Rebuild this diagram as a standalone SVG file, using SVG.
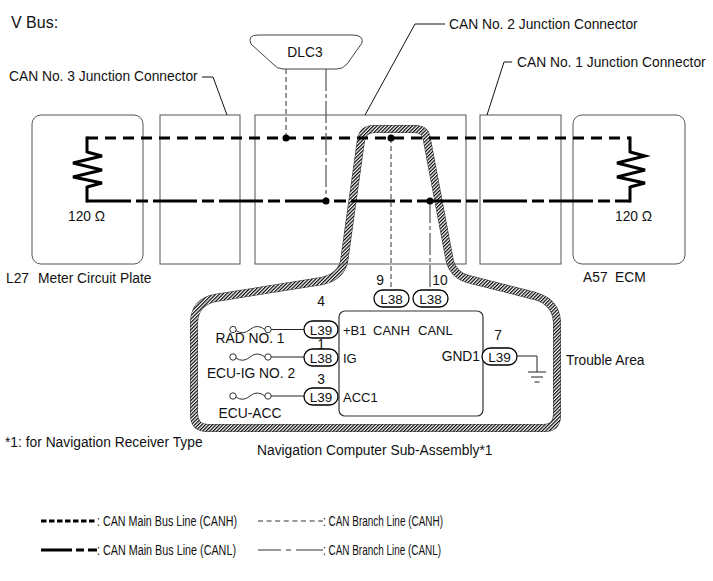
<svg xmlns="http://www.w3.org/2000/svg" width="713" height="581" viewBox="0 0 713 581">
<style>
text{font-family:"Liberation Sans",Arial,sans-serif;font-size:13.8px;fill:#111}
.box{fill:none;stroke:#555;stroke-width:1}
.lead{fill:none;stroke:#111;stroke-width:1}
.mainH{fill:none;stroke:#000;stroke-width:3;stroke-dasharray:11 7}
.mainL{fill:none;stroke:#000;stroke-width:3;stroke-dasharray:44 5 12 5}
.solid3{fill:none;stroke:#000;stroke-width:3}
.brH{fill:none;stroke:#555;stroke-width:1.2;stroke-dasharray:5 3}
.brL{fill:none;stroke:#555;stroke-width:1.2;stroke-dasharray:22 3 4 3}
.pill{fill:#fff;stroke:#000;stroke-width:1.3}
.pt{font-size:13.5px}
.nl{font-size:13px}
.wire{fill:none;stroke:#222;stroke-width:1}
.fuse{fill:none;stroke:#333;stroke-width:1}
.leg{font-size:14px}
</style>
<defs>
<pattern id="hatch" patternUnits="userSpaceOnUse" width="2.5" height="2.5" patternTransform="rotate(45)">
<rect width="2.5" height="2.5" fill="#fff"/>
<line x1="0.6" y1="0" x2="0.6" y2="2.5" stroke="#000" stroke-width="1.2"/>
</pattern>
</defs>

<text x="11" y="28" style="font-size:16px">V Bus:</text>

<g id="trouble-area">
<path d="M344,262 L361,140 Q363,129 374,129 L415,129 Q426,129 427,140 L450,262 Q455,276 468,279 L535,296 Q556,302 557,322 L557,415 Q557,428 544,428 L208,428 Q194,428 194,414 L194,322 Q195,302 215,298 L322,281 Q340,277 344,262 Z" fill="none" stroke="#333" stroke-width="8" stroke-linejoin="round"/>
<path d="M344,262 L361,140 Q363,129 374,129 L415,129 Q426,129 427,140 L450,262 Q455,276 468,279 L535,296 Q556,302 557,322 L557,415 Q557,428 544,428 L208,428 Q194,428 194,414 L194,322 Q195,302 215,298 L322,281 Q340,277 344,262 Z" fill="none" stroke="url(#hatch)" stroke-width="7" stroke-linejoin="round"/>
<text x="566" y="365">Trouble Area</text>
</g>

<g id="L27-meter">
<rect class="box" x="32" y="115" width="111" height="149" rx="9"/>
<text x="68" y="221">120 Ω</text>
<text y="283"><tspan x="6">L27</tspan><tspan x="38">Meter Circuit Plate</tspan></text>
</g>

<g id="can3-jc">
<rect class="box" x="160" y="115" width="80" height="149"/>
<text x="9" y="81">CAN No. 3 Junction Connector</text>
<path class="lead" d="M202,77 H213 L227,115"/>
</g>

<g id="can2-jc">
<rect class="box" x="255" y="115" width="211" height="149"/>
<text x="449" y="29">CAN No. 2 Junction Connector</text>
<path class="lead" d="M445,24 H415 L365,115"/>
</g>

<g id="can1-jc">
<rect class="box" x="480" y="115" width="81" height="149"/>
<text x="517" y="67">CAN No. 1 Junction Connector</text>
<path class="lead" d="M512,62 H504 L487,115"/>
</g>

<g id="A57-ecm">
<rect class="box" x="573" y="115" width="112" height="149" rx="9"/>
<text x="615" y="221">120 Ω</text>
<text y="282"><tspan x="583">A57</tspan><tspan x="615">ECM</tspan></text>
</g>

<g id="dlc3">
<path d="M258,35 H352 Q364,35 362,43 L347,64 Q343,69 337,69 H283 Q277,69 273,64 L251,44 Q247,35 258,35 Z" fill="#fff" stroke="#444" stroke-width="1"/>
<text x="305" y="57" text-anchor="middle">DLC3</text>
</g>

<g id="connectors">
<path class="mainH" d="M87,138 H630"/>
<path class="solid3" d="M87,153 V136.5 M630,153 V136.5"/>
<path class="mainL" d="M87,201 H630"/>
<path class="solid3" d="M87,186 V202.5 M630,186 V202.5"/>
<polyline class="solid3" points="87,152 102,156 73,163 102,170 73,177 102,183 87,187"/>
<polyline class="solid3" points="630,152 645,156 617,163 645,170 617,177 645,183 630,187"/>
<path class="brH" d="M286,69 V138"/>
<path class="brL" d="M326,69 V201"/>
<path class="brH" d="M391,138 V290"/>
<path class="brL" d="M430,201 V290"/>
<circle cx="286" cy="138" r="3.5"/>
<circle cx="326" cy="201" r="3.5"/>
<circle cx="391" cy="138" r="3.5"/>
<circle cx="430" cy="201" r="3.5"/>
<path class="wire" d="M271,329.5 H304 M271,357 H304 M271,396 H304"/>
<path class="wire" d="M517,356 H537 V372 M528,372 H546 M531,377 H543 M534.5,382 H539.5"/>
</g>

<g id="fuse-rad">
<circle class="fuse" cx="233" cy="329.5" r="3.2"/>
<circle class="fuse" cx="268" cy="329.5" r="3.2"/>
<path class="fuse" d="M236,330.5 Q243,335.5 250,329.5 Q257,323.5 265,329.5"/>
<text x="250" y="343" text-anchor="middle">RAD NO. 1</text>
</g>
<g id="fuse-ecuig">
<circle class="fuse" cx="233" cy="357" r="3.2"/>
<circle class="fuse" cx="268" cy="357" r="3.2"/>
<path class="fuse" d="M236,358 Q243,363 250,357 Q257,351 265,357"/>
<text x="251" y="378" text-anchor="middle">ECU-IG NO. 2</text>
</g>
<g id="fuse-ecuacc">
<circle class="fuse" cx="233" cy="396" r="3.2"/>
<circle class="fuse" cx="268" cy="396" r="3.2"/>
<path class="fuse" d="M236,397 Q243,402 250,396 Q257,390 265,396"/>
<text x="250" y="418" text-anchor="middle">ECU-ACC</text>
</g>

<g id="nav-computer">
<rect x="339" y="311" width="144" height="105" rx="6" fill="none" stroke="#333" stroke-width="1.2"/>
<text class="nl" x="343" y="335">+B1</text>
<text class="nl" x="373" y="335">CANH</text>
<text class="nl" x="418" y="335">CANL</text>
<text class="nl" x="343" y="363">IG</text>
<text class="nl" x="343" y="402">ACC1</text>
<text x="480" y="361" text-anchor="end">GND1</text>
<rect class="pill" x="304" y="321" width="34" height="17" rx="8.5"/>
<text class="pt" x="321" y="334.5" text-anchor="middle">L39</text>
<text x="321" y="306" text-anchor="middle">4</text>
<rect class="pill" x="304" y="349" width="34" height="17" rx="8.5"/>
<text class="pt" x="321" y="362.5" text-anchor="middle">L38</text>
<text x="321" y="348.5" text-anchor="middle">1</text>
<rect class="pill" x="304" y="388" width="34" height="17" rx="8.5"/>
<text class="pt" x="321" y="401.5" text-anchor="middle">L39</text>
<text x="321" y="384" text-anchor="middle">3</text>
<rect class="pill" x="374" y="290" width="35" height="17" rx="8.5"/>
<text class="pt" x="391.5" y="303.5" text-anchor="middle">L38</text>
<text x="380" y="285" text-anchor="middle">9</text>
<rect class="pill" x="413" y="290" width="35" height="17" rx="8.5"/>
<text class="pt" x="430.5" y="303.5" text-anchor="middle">L38</text>
<text x="440" y="285" text-anchor="middle">10</text>
<rect class="pill" x="482" y="348" width="35" height="17" rx="8.5"/>
<text class="pt" x="499.5" y="361.5" text-anchor="middle">L39</text>
<text x="498" y="340" text-anchor="middle">7</text>
<text x="257" y="455">Navigation Computer Sub-Assembly*1</text>
</g>

<text x="5" y="447">*1: for Navigation Receiver Type</text>

<g id="legend">
<path d="M41,521 H97" stroke="#000" stroke-width="3" stroke-dasharray="5.5 2.5" fill="none"/>
<text class="leg" x="97" y="526" textLength="140" lengthAdjust="spacingAndGlyphs">: CAN Main Bus Line (CANH)</text>
<path d="M258,521 H323" stroke="#777" stroke-width="1.3" stroke-dasharray="5 3.6" fill="none"/>
<text class="leg" x="323" y="526" textLength="120" lengthAdjust="spacingAndGlyphs">: CAN Branch Line (CANH)</text>
<path d="M41,550 H72 M76,550 H84 M88,550 H97" stroke="#000" stroke-width="3" fill="none"/>
<text class="leg" x="97" y="555" textLength="139" lengthAdjust="spacingAndGlyphs">: CAN Main Bus Line (CANL)</text>
<path d="M258,550 H281 M286,550 H291 M296,550 H323" stroke="#333" stroke-width="1" fill="none"/>
<text class="leg" x="323" y="555" textLength="118" lengthAdjust="spacingAndGlyphs">: CAN Branch Line (CANL)</text>
</g>
</svg>
